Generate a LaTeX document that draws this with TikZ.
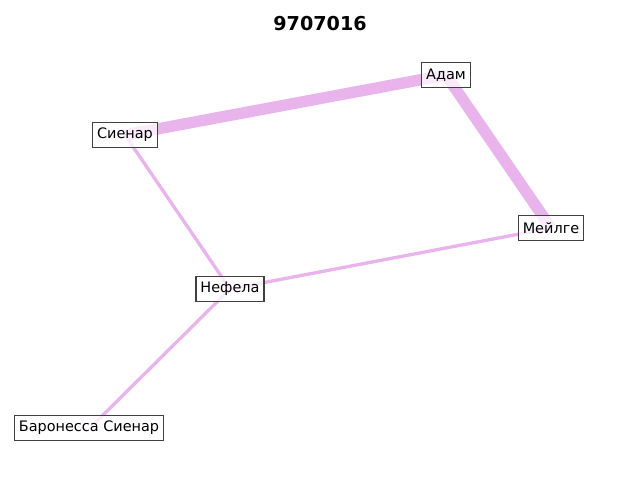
\documentclass[tikz,border=0pt]{standalone}
\usepackage{fontspec}
\setmainfont{DejaVu Sans}
\begin{document}
\begin{tikzpicture}[x=0.72pt,y=-0.72pt]
\definecolor{edgec}{RGB}{233,179,236}
\definecolor{boxc}{RGB}{64,64,64}
\tikzset{
  nd/.style={draw=boxc, line width=0.8pt, fill=white, fill opacity=0.75, text opacity=1, inner xsep=3.2pt, inner ysep=0pt, minimum height=18pt, font=\fontsize{10.4}{12}\selectfont},
  thickedge/.style={draw=edgec, line width=8.2pt},
  thinedge/.style={draw=edgec, line width=2.4pt}
}
\useasboundingbox (0,0) rectangle (640,480);
\node[font=\bfseries\fontsize{13.8}{16}\selectfont] (title) at (320,24) {9707016};
\coordinate (cA) at (446,75);
\coordinate (cS) at (125,135);
\coordinate (cM) at (551,228);
\coordinate (cN) at (230,289);
\coordinate (cB) at (92,426);
\draw[thickedge] (cS) -- (cA);
\draw[thickedge] (cA) -- (cM);
\draw[thinedge] (cS) -- (cN);
\draw[thinedge] (cN) -- (cM);
\draw[thinedge] (cN) -- (cB);
\node[nd] (A) at (cA) {Адам};
\node[nd] (S) at (cS) {Сиенар};
\node[nd] (M) at (cM) {Мейлге};
\node[nd] (N) at (cN) {Нефела};
\node[nd] (B) at (89,428) {Баронесса Сиенар};
\end{tikzpicture}
\end{document}
